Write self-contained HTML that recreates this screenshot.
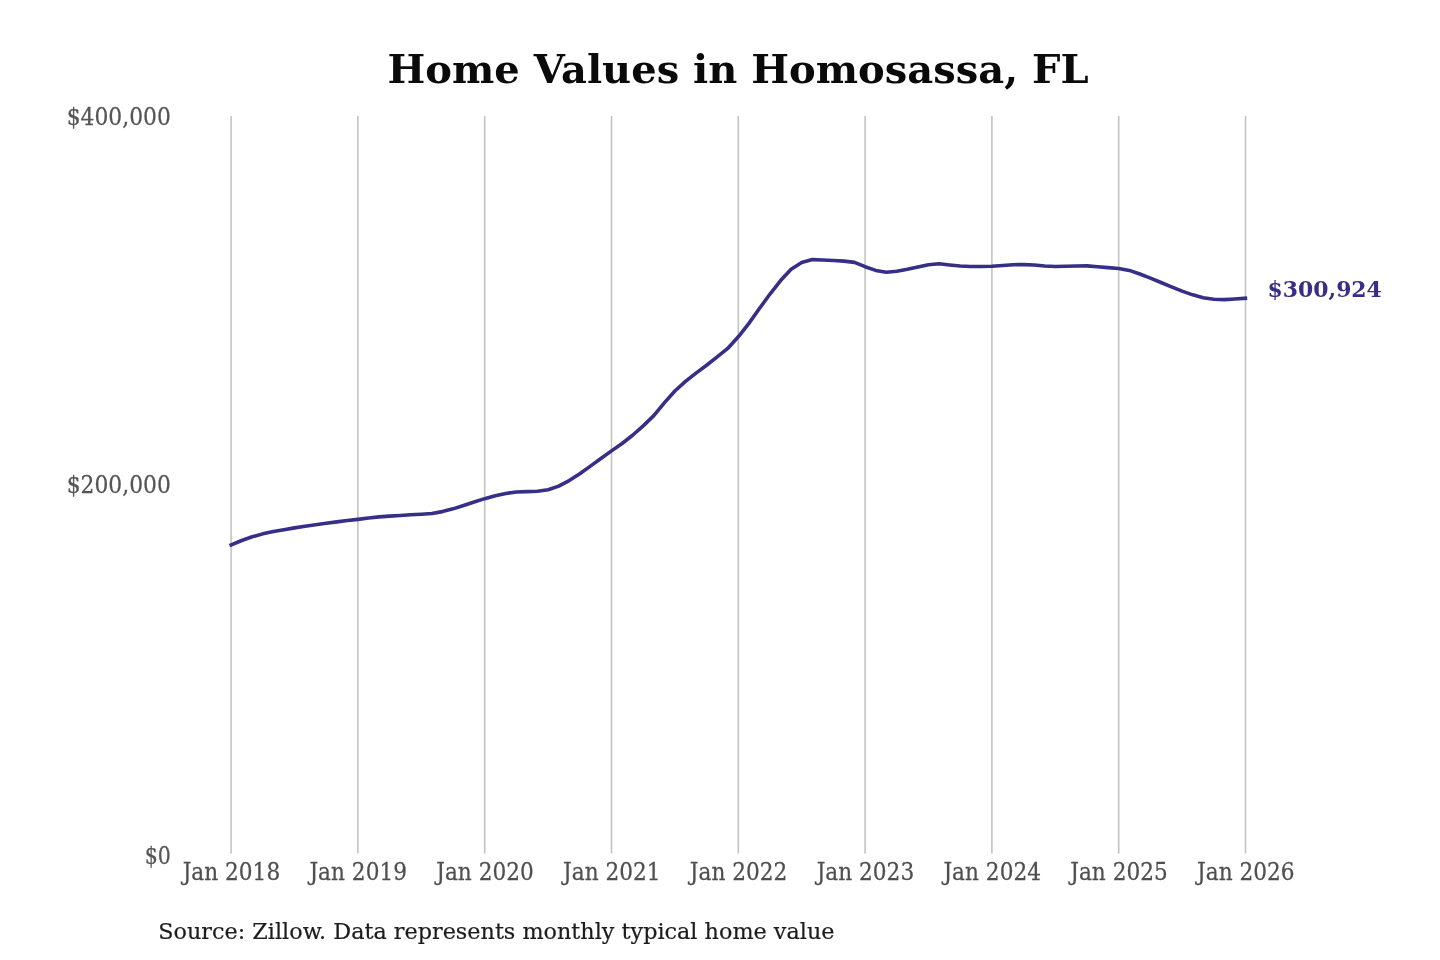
<!DOCTYPE html>
<html><head><meta charset="utf-8"><title>Home Values in Homosassa, FL</title>
<style>
html,body{margin:0;padding:0;background:#fff;}
body{width:1440px;height:960px;overflow:hidden;}
svg{display:block;font-family:"DejaVu Serif","Liberation Serif",serif;}
.grid line{stroke:#c3c3c3;stroke-width:1.6;}
.xl text{font-size:23.6px;fill:#4f4f4f;stroke:#4f4f4f;stroke-width:0.25;text-anchor:middle;}
.yl text{font-size:23.5px;fill:#555;stroke:#555;stroke-width:0.25;text-anchor:end;}
</style></head><body>
<svg width="1440" height="960" viewBox="0 0 1440 960">
<rect width="1440" height="960" fill="#fff"/>
<text x="738" y="83" text-anchor="middle" font-size="40px" font-weight="bold" fill="#0a0a0a">Home Values in Homosassa, FL</text>
<g class="grid">
<line x1="231.1" y1="116" x2="231.1" y2="853.5"/>
<line x1="357.9" y1="116" x2="357.9" y2="853.5"/>
<line x1="484.7" y1="116" x2="484.7" y2="853.5"/>
<line x1="611.5" y1="116" x2="611.5" y2="853.5"/>
<line x1="738.3" y1="116" x2="738.3" y2="853.5"/>
<line x1="865.1" y1="116" x2="865.1" y2="853.5"/>
<line x1="991.9" y1="116" x2="991.9" y2="853.5"/>
<line x1="1118.7" y1="116" x2="1118.7" y2="853.5"/>
<line x1="1245.5" y1="116" x2="1245.5" y2="853.5"/>
</g>
<g class="yl">
<text transform="translate(170.8,124.5) scale(0.929,1)">$400,000</text>
<text transform="translate(170.8,492.5) scale(0.929,1)">$200,000</text>
<text transform="translate(170.8,863.5) scale(0.875,1)">$0</text>
</g>
<g class="xl">
<text transform="translate(231.4,879.6) scale(0.918,1)">Jan 2018</text>
<text transform="translate(358.2,879.6) scale(0.918,1)">Jan 2019</text>
<text transform="translate(485.0,879.6) scale(0.918,1)">Jan 2020</text>
<text transform="translate(611.8,879.6) scale(0.918,1)">Jan 2021</text>
<text transform="translate(738.6,879.6) scale(0.918,1)">Jan 2022</text>
<text transform="translate(865.4,879.6) scale(0.918,1)">Jan 2023</text>
<text transform="translate(992.2,879.6) scale(0.918,1)">Jan 2024</text>
<text transform="translate(1119.0,879.6) scale(0.918,1)">Jan 2025</text>
<text transform="translate(1245.8,879.6) scale(0.918,1)">Jan 2026</text>
</g>
<path d="M231.2,544.91 L241.7,540.53 L252.2,536.81 L262.8,533.86 L273.4,531.58 L283.9,529.71 L294.5,527.89 L305.1,526.18 L315.6,524.72 L326.2,523.34 L336.8,521.90 L347.3,520.58 L357.9,519.38 L368.5,518.00 L379.0,516.89 L389.6,516.11 L400.2,515.49 L410.7,514.79 L421.3,514.21 L431.9,513.56 L442.4,511.61 L453.0,508.85 L463.6,505.55 L474.1,502.04 L484.7,498.66 L495.3,495.77 L505.8,493.45 L516.4,492.06 L527.0,491.58 L537.5,491.30 L548.1,489.75 L558.7,486.08 L569.2,480.61 L579.8,473.71 L590.4,466.09 L600.9,458.56 L611.5,450.89 L622.1,443.48 L632.6,435.27 L643.2,425.86 L653.8,415.62 L664.3,402.83 L674.9,390.99 L685.5,381.46 L696.0,373.12 L706.6,365.27 L717.2,356.91 L727.7,348.45 L738.3,336.80 L748.9,323.37 L759.4,308.57 L770.0,294.02 L780.6,280.55 L791.1,269.19 L801.7,262.56 L812.3,259.60 L822.8,259.94 L833.4,260.48 L844.0,261.15 L854.5,262.39 L865.1,266.69 L875.7,270.42 L886.2,272.24 L896.8,271.33 L907.4,269.33 L917.9,266.99 L928.5,264.69 L939.1,263.75 L949.6,264.99 L960.2,266.01 L970.8,266.49 L981.3,266.45 L991.9,266.26 L1002.5,265.50 L1013.0,264.69 L1023.6,264.60 L1034.2,264.96 L1044.7,266.05 L1055.3,266.50 L1065.9,266.22 L1076.4,265.97 L1087.0,265.91 L1097.6,266.80 L1108.1,267.65 L1118.7,268.47 L1129.3,270.42 L1139.8,273.98 L1150.4,278.11 L1161.0,282.50 L1171.5,286.91 L1182.1,291.10 L1192.7,294.85 L1203.2,297.71 L1213.8,299.28 L1224.4,299.58 L1234.9,299.05 L1245.4,298.29" fill="none" stroke="#362e87" stroke-width="3.6" stroke-linejoin="round" stroke-linecap="square"/>
<text x="1267.6" y="296.7" font-size="21.9px" font-weight="bold" fill="#362e87">$300,924</text>
<text transform="translate(158.2,939) scale(0.9667,1)" font-size="23.1px" fill="#1c1c1c" stroke="#1c1c1c" stroke-width="0.2">Source: Zillow. Data represents monthly typical home value</text>
</svg>
</body></html>
